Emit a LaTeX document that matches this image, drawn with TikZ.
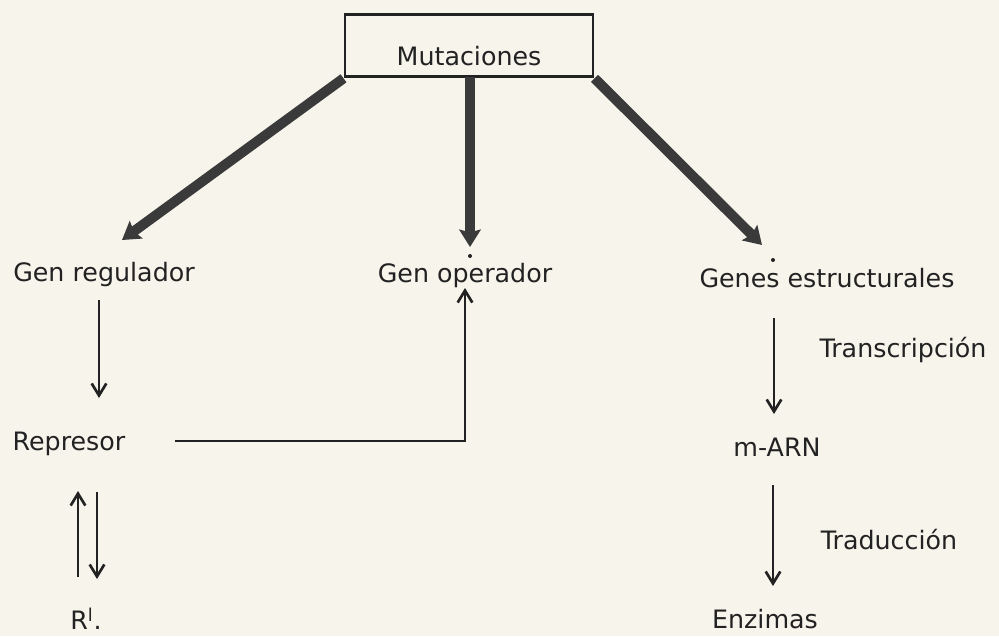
\documentclass[tikz,border=0pt]{standalone}
\usepackage{fontspec}
\setmainfont{DejaVu Sans}
\usetikzlibrary{arrows.meta}
\definecolor{paper}{HTML}{F7F4EC}
\definecolor{ink}{HTML}{222222}
\definecolor{thickink}{HTML}{3A3A3A}
\tikzset{
  lbl/.style={text=ink, font=\fontsize{19}{22}\selectfont, inner sep=0pt},
  thinarrow/.style={draw=ink, line width=2pt, -{Straight Barb[length=9pt,width=11pt,line width=2pt]}},
  thickarrow/.style={draw=thickink, line width=7.5pt, -{Stealth[length=13pt,width=16pt,inset=2pt]}},
  boxstyle/.style={draw=ink, line width=2.2pt, minimum width=186pt, minimum height=47pt, inner sep=0pt},
  dotstyle/.style={fill=ink, circle, inner sep=0pt, minimum size=3pt}
}
\begin{document}
\begin{tikzpicture}[x=0.75pt,y=-0.75pt]
\fill[paper] (0,0) rectangle (999,636);
\useasboundingbox (0,0) rectangle (999,636);

% box
\node[boxstyle] (mut) at (469,45.5) {};
\node[lbl] (muttext) at (469,56) {Mutaciones};

% labels
\node[lbl] (reg) at (104,275) {Gen regulador};
\node[lbl] (op) at (465,276) {Gen operador};
\node[lbl] (est) at (827,278) {Genes estructurales};
\node[lbl] (rep) at (69,444) {Represor};
\node[lbl] (rp) at (86,619) {R\textsuperscript{l}.};
\node[lbl] (mrna) at (777,447) {m-ARN};
\node[lbl] (enz) at (765,619) {Enzimas};
\node[lbl] (transc) at (903,350) {Transcripción};
\node[lbl] (trad) at (889,540) {Traducción};

% dots
\node[dotstyle] (d1) at (470,256) {};
\node[dotstyle] (d2) at (773,260) {};

% coordinates
\coordinate (t1) at (122,240);
\coordinate (s2) at (470,77);
\coordinate (t2) at (470,247);
\coordinate (t3) at (762,245);
\coordinate (regout) at (99,300);
\coordinate (repin) at (99,398);
\coordinate (rs) at (175,441);
\coordinate (opin) at (465,288);
\coordinate (tr1) at (774,318);
\coordinate (tr2) at (774,414);
\coordinate (td1) at (773,485);
\coordinate (td2) at (773,586);
\coordinate (ua) at (78,577);
\coordinate (ub) at (78,491);
\coordinate (da) at (97,492);
\coordinate (db) at (97,579);

% thick arrows
\draw[thickarrow] (mut.south west) -- (t1);
\draw[thickarrow] (s2) -- (t2);
\draw[thickarrow] (mut.south east) -- (t3);

% thin arrows
\draw[thinarrow] (regout) -- (repin);
\draw[thinarrow] (rs) -| (opin);
\draw[thinarrow] (tr1) -- (tr2);
\draw[thinarrow] (td1) -- (td2);
\draw[thinarrow] (ua) -- (ub);
\draw[thinarrow] (da) -- (db);
\end{tikzpicture}
\end{document}
